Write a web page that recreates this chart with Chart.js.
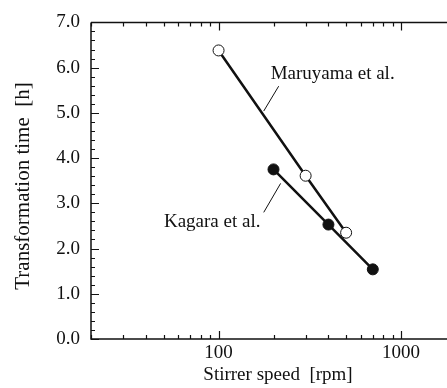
<!DOCTYPE html>
<html>
<head>
<meta charset="utf-8">
<script src="https://cdn.jsdelivr.net/npm/chart.js@4.4.1/dist/chart.umd.min.js"></script>
<style>
    html, body { margin: 0; padding: 0; background: #fff; overflow: hidden; }
    #wrap { width: 470px; height: 388px; }
</style>
</head>
<body>
<div id="wrap"><canvas id="myChart" width="470" height="388"></canvas></div>
<script>
// data
const maruyamaSpeed = [100, 300, 500];
const maruyamaTime = [6.38, 3.61, 2.35];
const kagaraSpeed = [200, 400, 700];
const kagaraTime = [3.75, 2.53, 1.54];

// axis ticks
const xTickLabels = [100, 1000];
const xMinorTicks = [20, 30, 40, 50, 60, 70, 80, 90, 200, 300, 400, 500, 600, 700, 800, 900, 2000];
const yTickLabels = [0, 1, 2, 3, 4, 5, 6, 7];

const FONT = 'Liberation Serif, Times New Roman, serif';
const INK = '#111';

// text labels with leader lines (data coordinates)
const notes = [
    { text: 'Maruyama et al.', x: 193, y: 5.86, from: [213.5, 5.59], to: [176.8, 5.04] },
    { text: 'Kagara et al.', x: 50.2, y: 2.58, from: [218.8, 3.44], to: [176.8, 2.80] }
];

const axesPlugin = {
    id: 'axesPlugin',
    afterDraw(chart) {
        const ctx = chart.ctx;
        const a = chart.chartArea;
        const xs = chart.scales.x;
        const ys = chart.scales.y;
        ctx.save();
        ctx.strokeStyle = INK;
        ctx.lineWidth = 1.5;
        ctx.beginPath();
        ctx.moveTo(a.left, a.top);
        ctx.lineTo(a.left, a.bottom);
        ctx.lineTo(a.right, a.bottom);
        ctx.moveTo(a.left, a.top);
        ctx.lineTo(a.right, a.top);
        ctx.moveTo(a.right, a.top);
        ctx.lineTo(a.right, a.bottom);
        ctx.stroke();

        ctx.lineWidth = 1.2;
        ctx.beginPath();
        // y ticks, inward
        for (let i = 0; i <= 35; i++) {
            const v = i * 0.2;
            const py = Math.round(ys.getPixelForValue(v)) + 0.5;
            const len = (i % 5 === 0) ? 8 : 4;
            ctx.moveTo(a.left, py);
            ctx.lineTo(a.left + len, py);
            ctx.moveTo(a.right, py);
            ctx.lineTo(a.right - len, py);
        }
        // x ticks, inward on bottom and top
        xTickLabels.concat(xMinorTicks).forEach(v => {
            const px = Math.round(xs.getPixelForValue(v)) + 0.5;
            const len = xTickLabels.includes(v) ? 8 : 4;
            ctx.moveTo(px, a.bottom);
            ctx.lineTo(px, a.bottom - len);
            ctx.moveTo(px, a.top);
            ctx.lineTo(px, a.top + len);
        });
        ctx.stroke();

        // annotations
        ctx.lineWidth = 1;
        ctx.fillStyle = INK;
        ctx.font = '19px ' + FONT;
        ctx.textBaseline = 'middle';
        ctx.textAlign = 'left';
        notes.forEach(n => {
            ctx.fillText(n.text, xs.getPixelForValue(n.x), ys.getPixelForValue(n.y));
            ctx.beginPath();
            ctx.moveTo(xs.getPixelForValue(n.from[0]), ys.getPixelForValue(n.from[1]));
            ctx.lineTo(xs.getPixelForValue(n.to[0]), ys.getPixelForValue(n.to[1]));
            ctx.stroke();
        });

        // axis titles
        ctx.textBaseline = 'alphabetic';
        ctx.textAlign = 'center';
        ctx.font = '19px ' + FONT;
        ctx.fillText('Stirrer speed  [rpm]', 278, 380);
        ctx.translate(29, 186);
        ctx.rotate(-Math.PI / 2);
        ctx.font = '21px ' + FONT;
        ctx.fillText('Transformation time  [h]', 0, 0);
        ctx.restore();
    }
};

const ctx = document.getElementById('myChart').getContext('2d');
const myChart = new Chart(ctx, {
    type: 'scatter',
    data: {
        datasets: [
            {
                label: 'Maruyama et al.',
                data: maruyamaSpeed.map((s, i) => ({ x: s, y: maruyamaTime[i] })),
                showLine: true,
                borderColor: INK,
                borderWidth: 2.5,
                pointRadius: 5.5,
                pointBackgroundColor: '#fff',
                pointBorderColor: INK,
                pointBorderWidth: 1,
                order: 1
            },
            {
                label: 'Kagara et al.',
                data: kagaraSpeed.map((s, i) => ({ x: s, y: kagaraTime[i] })),
                showLine: true,
                borderColor: INK,
                borderWidth: 2.5,
                pointRadius: 5.5,
                pointBackgroundColor: INK,
                pointBorderColor: INK,
                pointBorderWidth: 1,
                order: 2
            }
        ]
    },
    options: {
        responsive: false,
        animation: false,
        events: [],
        layout: { padding: { top: 21, right: 14, left: 0, bottom: 0 } },
        plugins: {
            legend: { display: false },
            tooltip: { enabled: false }
        },
        scales: {
            x: {
                type: 'logarithmic',
                min: 20,
                max: 2000,
                afterBuildTicks: scale => { scale.ticks = xTickLabels.map(v => ({ value: v })); },
                afterFit: scale => { scale.height = 49; },
                grid: { display: false, drawTicks: false },
                border: { display: false },
                ticks: {
                    color: INK,
                    font: { family: FONT, size: 19 },
                    padding: 3,
                    maxRotation: 0,
                    autoSkip: false,
                    callback: v => String(v)
                }
            },
            y: {
                min: 0,
                max: 7,
                afterBuildTicks: scale => { scale.ticks = yTickLabels.map(v => ({ value: v })); },
                afterFit: scale => { scale.width = 91; },
                grid: { display: false, drawTicks: false },
                border: { display: false },
                ticks: {
                    color: INK,
                    font: { family: FONT, size: 19 },
                    padding: 11,
                    callback: v => Number(v).toFixed(1)
                }
            }
        }
    },
    plugins: [axesPlugin]
});
</script>
</body>
</html>
